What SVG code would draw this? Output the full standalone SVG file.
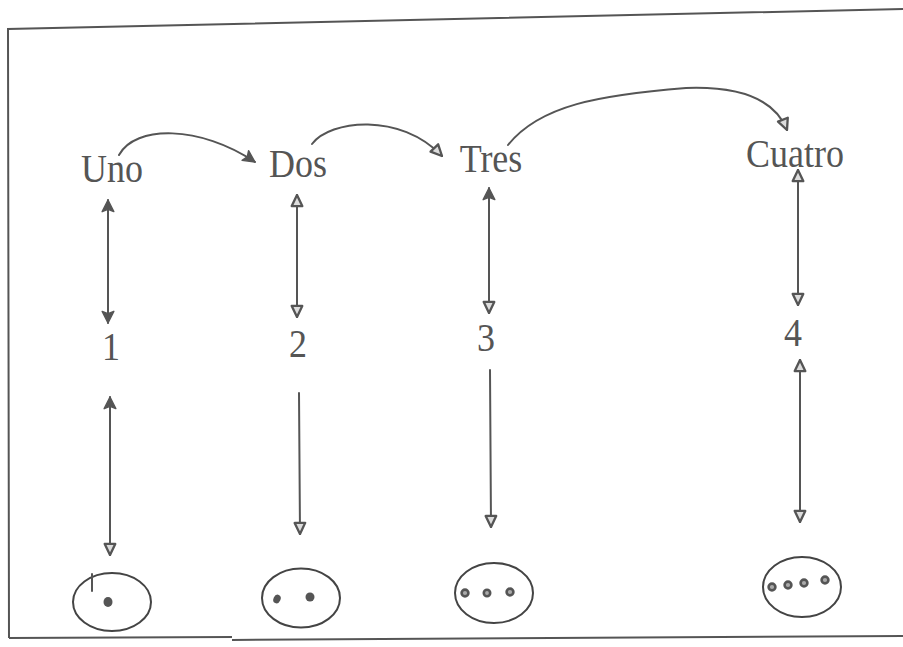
<svg xmlns="http://www.w3.org/2000/svg" width="903" height="647" viewBox="0 0 903 647">
  <defs>
    <style>
      .frame { fill: none; stroke: #555; stroke-width: 2; }
      .word { font-family: "Liberation Serif", "Times New Roman", serif; font-size: 36px; fill: #555; text-anchor: middle; }
      .link { fill: none; stroke: #555; stroke-width: 2; stroke-linecap: round; }
      .set { fill: none; stroke: #444; stroke-width: 2; }
      .dot { fill: #555; }
      .ring { fill: #aaa; stroke: #555; stroke-width: 2.6; }
    </style>
    <marker id="headFill" viewBox="0 0 12 12" refX="11" refY="6" markerWidth="14" markerHeight="14" markerUnits="userSpaceOnUse" orient="auto-start-reverse">
      <path d="M1,1 L11,6 L1,11 L3,6 Z" fill="#555" stroke="#555" stroke-width="1.2" stroke-linejoin="round"/>
    </marker>
    <marker id="headOpen" viewBox="0 0 12 12" refX="11" refY="6" markerWidth="14" markerHeight="14" markerUnits="userSpaceOnUse" orient="auto-start-reverse">
      <path d="M1.5,1.5 L11,6 L1.5,10.5 Z" fill="#ddd" stroke="#555" stroke-width="2" stroke-linejoin="round"/>
    </marker>
  </defs>

  <rect width="903" height="647" fill="#fff"/>

  <!-- page frame -->
  <g id="frame">
    <polyline class="frame" points="903,9 8,29 9,638"/>
    <line class="frame" x1="9" y1="638" x2="232" y2="637"/>
    <line class="frame" x1="232" y1="640" x2="903" y2="636"/>
  </g>

  <!-- number words -->
  <g id="uno"><text class="word" transform="translate(112,182) scale(1,1.12)">Uno</text></g>
  <g id="dos"><text class="word" transform="translate(298,177) scale(1,1.12)">Dos</text></g>
  <g id="tres"><text class="word" transform="translate(491,172) scale(1,1.12)">Tres</text></g>
  <g id="cuatro"><text class="word" transform="translate(795,167) scale(1,1.12)">Cuatro</text></g>

  <!-- numerals -->
  <g id="n1"><text class="word" transform="translate(111,360) scale(1,1.12)">1</text></g>
  <g id="n2"><text class="word" transform="translate(298,357) scale(1,1.12)">2</text></g>
  <g id="n3"><text class="word" transform="translate(486,351) scale(1,1.12)">3</text></g>
  <g id="n4"><text class="word" transform="translate(793,346) scale(1,1.12)">4</text></g>

  <!-- sets of dots -->
  <g id="set1">
    <ellipse class="set" cx="112" cy="602" rx="39" ry="29"/>
    <line class="link" x1="92" y1="574" x2="92" y2="591"/>
    <ellipse class="dot" cx="108" cy="602" rx="4.5" ry="5"/>
  </g>
  <g id="set2">
    <ellipse class="set" cx="301" cy="598" rx="39" ry="29.5"/>
    <ellipse class="dot" cx="277" cy="599" rx="3.5" ry="4.5" transform="rotate(25 277 599)"/>
    <ellipse class="dot" cx="310" cy="597" rx="4.5" ry="4.5"/>
  </g>
  <g id="set3">
    <ellipse class="set" cx="494" cy="593" rx="39" ry="30"/>
    <circle class="ring" cx="465" cy="593" r="3.4"/>
    <circle class="ring" cx="487" cy="593" r="3.2"/>
    <circle class="ring" cx="510" cy="592" r="3.4"/>
  </g>
  <g id="set4">
    <ellipse class="set" cx="802" cy="587" rx="39" ry="30"/>
    <circle class="ring" cx="772" cy="587" r="3.4"/>
    <circle class="ring" cx="788" cy="585" r="3.4"/>
    <circle class="ring" cx="804" cy="583" r="3.4"/>
    <circle class="ring" cx="825" cy="580" r="3.4"/>
  </g>

  <!-- connectors -->
  <g id="connectors">
    <!-- succession arcs -->
    <path class="link" d="M119,155 C135,125 200,125 255,162" marker-end="url(#headFill)"/>
    <path class="link" d="M312,144 C330,120 400,112 442,156" marker-end="url(#headOpen)"/>
    <path class="link" d="M508,145 C540,105 600,95 686,88 C740,86 775,100 787,130" marker-end="url(#headOpen)"/>

    <!-- word to numeral -->
    <line class="link" x1="108" y1="200" x2="108" y2="323" marker-start="url(#headFill)" marker-end="url(#headFill)"/>
    <line class="link" x1="297" y1="195" x2="297" y2="317" marker-start="url(#headOpen)" marker-end="url(#headOpen)"/>
    <line class="link" x1="489" y1="188" x2="489" y2="313" marker-start="url(#headFill)" marker-end="url(#headOpen)"/>
    <line class="link" x1="798" y1="170" x2="798" y2="305" marker-start="url(#headOpen)" marker-end="url(#headOpen)"/>

    <!-- numeral to set -->
    <line class="link" x1="110" y1="397" x2="110" y2="555" marker-start="url(#headFill)" marker-end="url(#headOpen)"/>
    <line class="link" x1="299" y1="393" x2="300" y2="534" marker-end="url(#headOpen)"/>
    <line class="link" x1="490" y1="370" x2="491" y2="527" marker-end="url(#headOpen)"/>
    <line class="link" x1="800" y1="360" x2="800" y2="522" marker-start="url(#headOpen)" marker-end="url(#headOpen)"/>
  </g>
</svg>
